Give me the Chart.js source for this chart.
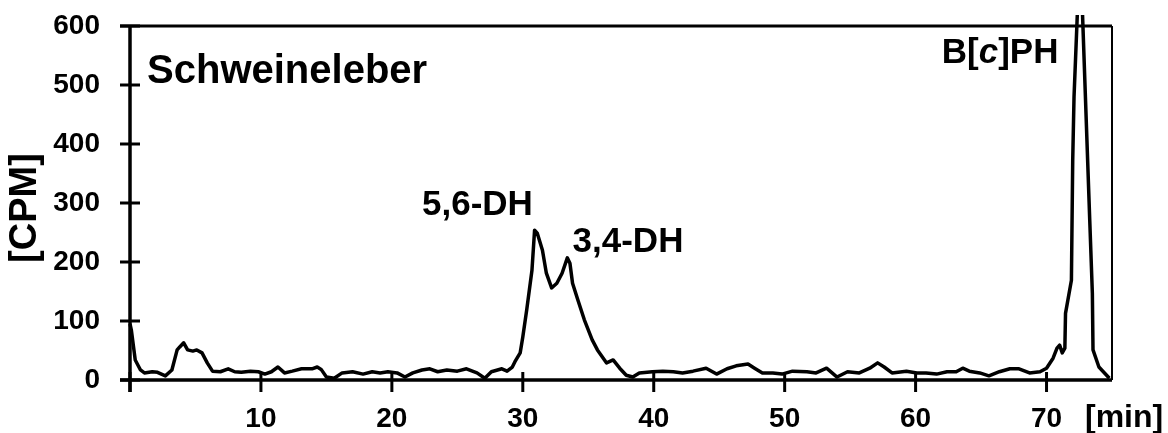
<!DOCTYPE html>
<html lang="de">
<head>
<meta charset="UTF-8" />
<title>Schweineleber</title>
<script src="https://cdn.jsdelivr.net/npm/chart.js"></script>
<style>
  body { margin: 0; background: #fff; }
  canvas { display: block; }
</style>
</head>
<body>
<canvas id="chroma" width="1168" height="433"></canvas>
<script>
// retention time [min] and counts [CPM]
const timeMin = [
  0.0, 0.1, 0.4, 0.8, 1.1, 1.7, 2.1, 2.7, 3.2, 3.6, 3.8, 4.1, 4.4, 4.8, 5.1, 5.5, 5.9, 6.3, 6.9, 7.5,
  8.0, 8.5, 9.2, 9.8, 10.3, 10.8, 11.3, 11.8, 12.4, 13.1, 13.9, 14.3, 14.6, 15.0, 15.6, 16.2, 17.0, 17.8, 18.5, 19.1,
  19.7, 20.4, 21.0, 21.6, 22.3, 22.9, 23.5, 24.2, 25.0, 25.7, 26.5, 27.1, 27.6, 28.4, 28.8, 29.2, 29.4, 29.8, 30.0, 30.3,
  30.7, 30.9, 31.1, 31.5, 31.8, 32.2, 32.6, 33.0, 33.4, 33.6, 33.8, 34.2, 34.7, 35.3, 35.7, 36.4, 36.9, 37.4, 37.9, 38.4,
  38.9, 39.9, 40.7, 41.5, 42.2, 43.0, 44.0, 44.8, 45.6, 46.3, 47.2, 47.7, 48.3, 49.1, 49.8, 50.6, 51.7, 52.4, 53.2, 54.0,
  54.8, 55.7, 56.5, 57.1, 57.6, 58.2, 59.3, 60.1, 60.8, 61.6, 62.4, 63.1, 63.6, 64.1, 64.9, 65.6, 66.4, 67.2, 67.9, 68.7,
  69.5, 70.0, 70.5, 70.8, 71.0, 71.2, 71.4, 71.45, 71.9, 72.0, 72.1, 72.35, 72.6, 72.75, 73.3, 73.5, 73.55, 74.0, 74.8
];
const cpm = [
  95, 85, 34, 17, 12, 14, 13, 7, 17, 51, 56, 63, 51, 49, 51, 46, 29, 15, 14, 19,
  14, 13, 15, 14, 10, 14, 22, 12, 15, 19, 19, 22, 18, 5, 3, 12, 14, 10, 14, 12,
  14, 12, 5, 12, 17, 19, 14, 17, 15, 19, 12, 3, 14, 19, 15, 22, 31, 46, 73, 119,
  186, 254, 249, 220, 181, 156, 164, 181, 207, 198, 164, 136, 102, 68, 51, 29, 34, 20, 8, 5,
  12, 14, 15, 14, 12, 15, 20, 10, 19, 24, 27, 20, 12, 12, 10, 15, 14, 12, 20, 5,
  14, 12, 20, 29, 22, 12, 15, 12, 12, 10, 14, 14, 20, 15, 12, 7, 14, 19, 19, 12,
  14, 20, 37, 54, 59, 46, 54, 113, 169, 373, 480, 619, 740, 619, 271, 147, 51, 22, 3
];

const xTicks = [0, 10, 20, 30, 40, 50, 60, 70];
const yTicks = [0, 100, 200, 300, 400, 500, 600];

// peak labels: [text parts, x (min), y (CPM)]
const peakLabels = [
  [['5,6-DH'], 22.3, 280],
  [['3,4-DH'], 33.8, 217],
  [['B[', 'c', ']PH'], 62.0, 537]
];

const FONT = '"Liberation Sans", Arial, sans-serif';
Chart.defaults.font.family = FONT;
Chart.defaults.color = '#000';

function line(ctx, x1, y1, x2, y2) {
  ctx.beginPath();
  ctx.moveTo(x1, y1);
  ctx.lineTo(x2, y2);
  ctx.stroke();
}

const axesPlugin = {
  id: 'axes',
  afterDatasetsDraw(chart) {
    const { ctx, chartArea: a, scales: { x, y } } = chart;
    ctx.save();
    ctx.strokeStyle = '#000';
    ctx.fillStyle = '#000';

    // frame
    ctx.lineWidth = 3;
    line(ctx, a.left - 10, a.top, a.right, a.top);
    ctx.lineWidth = 2;
    line(ctx, a.right, a.top, a.right, a.bottom);

    // axes
    ctx.lineWidth = 3.5;
    line(ctx, a.left, a.top, a.left, a.bottom + 12);
    line(ctx, a.left - 10, a.bottom, a.right, a.bottom);

    // tick marks
    ctx.lineWidth = 3;
    yTicks.forEach(v => {
      const py = y.getPixelForValue(v);
      line(ctx, a.left - 10, py, a.left + 10, py);
    });
    xTicks.forEach(v => {
      const px = x.getPixelForValue(v);
      line(ctx, px, a.bottom - 8, px, a.bottom + 12);
    });

    // texts
    ctx.textBaseline = 'alphabetic';
    ctx.textAlign = 'left';
    ctx.font = 'bold 40px ' + FONT;
    ctx.fillText('Schweineleber', x.getPixelForValue(1.3), y.getPixelForValue(503));

    peakLabels.forEach(([parts, xv, yv]) => {
      let px = x.getPixelForValue(xv);
      const py = y.getPixelForValue(yv);
      parts.forEach((t, i) => {
        ctx.font = (parts.length === 3 && i === 1 ? 'italic ' : '') + 'bold 35px ' + FONT;
        ctx.fillText(t, px, py);
        px += ctx.measureText(t).width;
      });
    });

    ctx.font = 'bold 32px ' + FONT;
    ctx.fillText('[min]', 1085, 427);

    ctx.save();
    ctx.translate(36, 208);
    ctx.rotate(-Math.PI / 2);
    ctx.textAlign = 'center';
    ctx.font = 'bold 38px ' + FONT;
    ctx.fillText('[CPM]', 0, 0);
    ctx.restore();

    ctx.restore();
  }
};

new Chart(document.getElementById('chroma'), {
  type: 'line',
  data: {
    datasets: [{
      data: timeMin.map((t, i) => ({ x: t, y: cpm[i] })),
      borderColor: '#000',
      borderWidth: 3.5,
      borderJoinStyle: 'round',
      pointRadius: 0,
      tension: 0,
      fill: false,
      clip: { left: 2, top: 11, right: 2, bottom: 2 }
    }]
  },
  options: {
    responsive: false,
    animation: false,
    events: [],
    layout: { padding: { left: 0, top: 26, right: 56, bottom: 0 } },
    plugins: { legend: { display: false }, tooltip: { enabled: false } },
    scales: {
      x: {
        type: 'linear',
        min: 0,
        max: 75,
        grid: { display: false, drawTicks: false },
        border: { display: false },
        afterBuildTicks: s => { s.ticks = xTicks.map(v => ({ value: v })); },
        afterFit: s => { s.height = 53; s.paddingLeft = 0; s.paddingRight = 0; },
        ticks: {
          autoSkip: false,
          maxRotation: 0,
          padding: 22,
          font: { size: 28, weight: 'bold' },
          callback: v => (v === 0 ? '' : v)
        }
      },
      y: {
        min: 0,
        max: 600,
        grid: { display: false, drawTicks: false },
        border: { display: false },
        afterBuildTicks: s => { s.ticks = yTicks.map(v => ({ value: v })); },
        afterFit: s => { s.width = 130; s.paddingTop = 0; s.paddingBottom = 0; },
        ticks: {
          padding: 30,
          font: { size: 28, weight: 'bold' }
        }
      }
    }
  },
  plugins: [axesPlugin]
});
</script>
</body>
</html>
